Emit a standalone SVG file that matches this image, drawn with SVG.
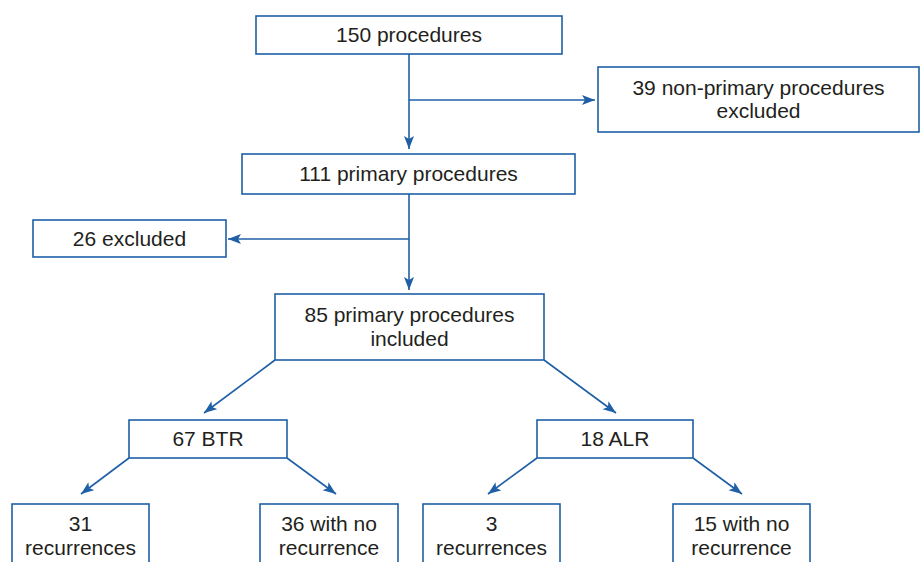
<svg xmlns="http://www.w3.org/2000/svg" width="923" height="562" viewBox="0 0 923 562">
<style>
.box{fill:#fff;stroke:#1f5fa6;stroke-width:1.6}
.t{font-family:"Liberation Sans",Arial,sans-serif;font-size:21px;fill:#231f20;text-anchor:middle}
.c{fill:none;stroke:#1f5fa6;stroke-width:1.6}
</style>
<defs>
<marker id="ah" markerUnits="userSpaceOnUse" markerWidth="14" markerHeight="12" refX="13" refY="5" orient="auto">
<path d="M0,0 L13,5 L0,10 L3,5 z" fill="#1f5fa6"/>
</marker>
</defs>
<rect width="923" height="562" fill="#fff"/>
<g id="connectors">
<line class="c" x1="409" y1="54" x2="409" y2="149" marker-end="url(#ah)"/>
<line class="c" x1="409" y1="100" x2="595" y2="100" marker-end="url(#ah)"/>
<line class="c" x1="409" y1="194" x2="409" y2="290" marker-end="url(#ah)"/>
<line class="c" x1="409" y1="239" x2="228" y2="239" marker-end="url(#ah)"/>
<line class="c" x1="275" y1="360" x2="204" y2="413" marker-end="url(#ah)"/>
<line class="c" x1="544" y1="360" x2="616" y2="413" marker-end="url(#ah)"/>
<line class="c" x1="129" y1="458" x2="81" y2="494" marker-end="url(#ah)"/>
<line class="c" x1="287" y1="458" x2="336" y2="494" marker-end="url(#ah)"/>
<line class="c" x1="537" y1="458" x2="488" y2="494" marker-end="url(#ah)"/>
<line class="c" x1="693" y1="458" x2="742" y2="494" marker-end="url(#ah)"/>
</g>
<g id="n150"><rect class="box" x="256" y="16" width="306" height="38"/><text class="t" x="409" y="42">150 procedures</text></g>
<g id="n39"><rect class="box" x="598" y="67" width="321" height="65"/><text class="t" x="758.5" y="95">39 non-primary procedures</text><text class="t" x="758.5" y="118">excluded</text></g>
<g id="n111"><rect class="box" x="242" y="154" width="333" height="40"/><text class="t" x="408.5" y="181">111 primary procedures</text></g>
<g id="n26"><rect class="box" x="33" y="220" width="193" height="37"/><text class="t" x="129.5" y="246">26 excluded</text></g>
<g id="n85"><rect class="box" x="275" y="294" width="269" height="66"/><text class="t" x="409.5" y="322">85 primary procedures</text><text class="t" x="409.5" y="346">included</text></g>
<g id="nBTR"><rect class="box" x="129" y="420" width="158" height="38"/><text class="t" x="208" y="446">67 BTR</text></g>
<g id="nALR"><rect class="box" x="537" y="420" width="156" height="38"/><text class="t" x="615" y="446">18 ALR</text></g>
<g id="n31"><rect class="box" x="12" y="504" width="137" height="70"/><text class="t" x="80.5" y="531">31</text><text class="t" x="80.5" y="555">recurrences</text></g>
<g id="n36"><rect class="box" x="260" y="504" width="138" height="70"/><text class="t" x="329" y="531">36 with no</text><text class="t" x="329" y="555">recurrence</text></g>
<g id="n3"><rect class="box" x="423" y="504" width="137" height="70"/><text class="t" x="491.5" y="531">3</text><text class="t" x="491.5" y="555">recurrences</text></g>
<g id="n15"><rect class="box" x="673" y="504" width="137" height="70"/><text class="t" x="741.5" y="531">15 with no</text><text class="t" x="741.5" y="555">recurrence</text></g>
</svg>
